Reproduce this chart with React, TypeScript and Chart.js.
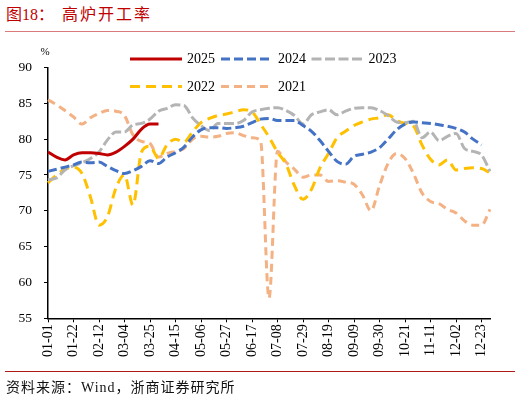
import React, { useEffect, useRef } from "react";
import { Chart, registerables } from "chart.js";

Chart.register(...registerables);

const labels = [
  "01-01", "01-08", "01-15", "01-22", "01-29", "02-05", "02-12", "02-19", "02-26",
  "03-04", "03-11", "03-18", "03-25", "04-01", "04-08", "04-15", "04-22", "04-29",
  "05-06", "05-13", "05-20", "05-27", "06-03", "06-10", "06-17", "06-24", "07-01",
  "07-08", "07-15", "07-22", "07-29", "08-05", "08-12", "08-19", "08-26", "09-02",
  "09-09", "09-16", "09-23", "09-30", "10-07", "10-14", "10-21", "10-28", "11-04",
  "11-11", "11-18", "11-25", "12-02", "12-09", "12-16", "12-23", "12-30",
];

const shownTicks = [
  "01-01", "01-22", "02-12", "03-04", "03-25", "04-15", "05-06", "05-27", "06-17",
  "07-08", "07-29", "08-19", "09-09", "09-30", "10-21", "11-11", "12-02", "12-23",
];

const yTicks = [55, 60, 65, 70, 75, 80, 85, 90];

const s2025 = [78.2, 77.5, 77.1, 77.8, 78.1, 78.1, 78.0, 77.8, 78.2, 79.0, 80.0, 81.4, 82.1, 82.1];

const s2024 = [
  75.5, 75.8, 76.1, 76.4, 76.8, 76.7, 76.8, 76.2, 75.6, 75.2,
  75.6, 76.2, 77.0, 76.6, 77.5, 78.1, 78.9, 80.3, 81.3, 81.6,
  81.6, 81.5, 81.6, 81.8, 82.3, 82.8, 82.9, 82.6, 82.6, 82.6,
  81.9, 81.1, 79.8, 78.3, 76.9, 76.5, 77.6, 77.9, 78.2, 78.8,
  80.0, 81.3, 82.1, 82.4, 82.3, 82.2, 82.0, 81.8, 81.5, 81.0,
  80.0, 79.2,
];

const s2023 = [
  74.3, 74.6, 75.7, 76.3, 76.7, 77.3, 78.2, 79.9, 81.0, 81.0,
  82.0, 82.2, 82.8, 83.9, 84.3, 84.8, 84.7, 83.0, 81.9, 81.2,
  82.2, 82.2, 82.2, 82.6, 83.8, 84.1, 84.3, 84.4, 84.0, 83.3,
  82.1, 83.4, 83.8, 84.1, 83.4, 83.9, 84.3, 84.4, 84.4, 84.0,
  83.3, 82.4, 82.3, 82.5, 80.2, 81.0, 79.8, 80.4, 80.8, 78.7,
  78.3, 77.8, 75.5,
];

const s2022 = [
  73.9, 75.0, 75.8, 76.1, 75.2, 71.9, 68.0, 69.2, 73.2, 75.0,
  70.8, 78.2, 79.0, 77.3, 79.2, 80.0, 79.6, 81.0, 82.3, 82.9,
  83.3, 83.5, 83.8, 84.1, 83.8, 82.1, 80.3, 78.2, 76.5, 73.5,
  71.6, 73.0, 76.0, 78.0, 80.2, 81.1, 81.9, 82.4, 82.8, 83.0,
  83.4, 82.6, 82.2, 81.8, 79.2, 77.2, 76.4, 77.1, 75.7, 75.9,
  76.0, 75.9, 75.3,
];

const s2021 = [
  85.5, 84.8, 84.0, 83.1, 82.1, 83.0, 83.6, 84.0, 83.9, 83.3,
  80.6, 79.7, 79.4, 77.5, 78.0, 78.3, 78.7, 80.0, 80.4, 80.3,
  80.4, 80.8, 80.9, 80.5, 80.2, 79.8, 57.8, 78.3, 76.8, 75.8,
  74.7, 75.0, 75.0, 74.1, 74.2, 74.0, 73.7, 72.2, 70.0, 73.5,
  76.6, 78.0, 77.3, 75.2, 72.5, 71.3, 71.0, 70.2, 69.7, 68.6,
  68.0, 68.0, 70.2,
];

const SERIF = '"Liberation Serif", "Times New Roman", "Noto Sans CJK SC", serif';

const gridLegend = {
  id: "gridLegend",
  afterDraw(chart: any) {
    const { ctx, chartArea } = chart;
    const cols = [82, 173, 263.5];
    const rows = [-8.5, 19];
    ctx.save();
    chart.data.datasets.forEach((ds: any, i: number) => {
      const x0 = chartArea.left + cols[i % 3];
      const y = chartArea.top + rows[Math.floor(i / 3)];
      ctx.strokeStyle = ds.borderColor;
      ctx.lineWidth = ds.borderWidth;
      ctx.setLineDash(ds.borderDash || []);
      ctx.beginPath();
      ctx.moveTo(x0, y);
      ctx.lineTo(x0 + 52, y);
      ctx.stroke();
      ctx.setLineDash([]);
      ctx.fillStyle = "#000";
      ctx.font = `14px ${SERIF}`;
      ctx.textBaseline = "middle";
      ctx.textAlign = "left";
      ctx.fillText(ds.label, x0 + 57, y + 0.5);
    });
    ctx.font = `11px ${SERIF}`;
    ctx.textAlign = "center";
    ctx.textBaseline = "middle";
    ctx.fillStyle = "#000";
    ctx.fillText("%", chartArea.left - 3, chartArea.top - 15);
    ctx.restore();
  },
};

export default function App() {
  const canvasRef = useRef<HTMLCanvasElement | null>(null);

  useEffect(() => {
    if (!canvasRef.current) return;
    const mk = (label: string, data: number[], color: string, dash: number[]) => ({
      label,
      data,
      borderColor: color,
      backgroundColor: color,
      borderWidth: 3,
      borderDash: dash,
      pointRadius: 0,
      pointHoverRadius: 0,
      fill: false,
      cubicInterpolationMode: "monotone" as const,
      spanGaps: false,
    });
    const chart = new Chart(canvasRef.current, {
      type: "line",
      data: {
        labels,
        datasets: [
          mk("2025", s2025, "#C00000", []),
          mk("2024", s2024, "#4472C4", [9, 4]),
          mk("2023", s2023, "#B4B4B4", [10, 3.5]),
          mk("2022", s2022, "#FFC000", [10, 6]),
          mk("2021", s2021, "#F4B183", [8, 5]),
        ],
      },
      options: {
        animation: false,
        responsive: false,
        devicePixelRatio: 1,
        layout: { padding: { left: 0, top: 67.5, right: 30, bottom: 38.7 } },
        plugins: {
          legend: { display: false },
          tooltip: { enabled: false },
          title: { display: false },
        },
        scales: {
          x: {
            type: "category",
            offset: false,
            afterFit: (scale: any) => {
              scale.height = 45;
            },
            grid: {
              display: true,
              drawOnChartArea: false,
              drawTicks: true,
              tickLength: 4,
              color: "#000",
              lineWidth: 1,
            },
            border: { display: true, color: "#000", width: 1.5 },
            ticks: {
              autoSkip: false,
              minRotation: 90,
              maxRotation: 90,
              padding: 2,
              color: "#000",
              font: { family: SERIF, size: 14 },
              callback: (_v: any, i: number) =>
                shownTicks.includes(labels[i]) ? labels[i] : null,
            },
          },
          y: {
            type: "linear",
            min: yTicks[0],
            max: yTicks[yTicks.length - 1],
            afterFit: (scale: any) => {
              scale.width = 48;
            },
            afterBuildTicks: (scale: any) => {
              scale.ticks = yTicks.map((v) => ({ value: v }));
            },
            grid: {
              display: true,
              drawOnChartArea: false,
              drawTicks: true,
              tickLength: 4,
              color: "#000",
              lineWidth: 1,
            },
            border: { display: true, color: "#000", width: 1.5 },
            ticks: {
              padding: 12,
              color: "#000",
              font: { family: SERIF, size: 13.5 },
            },
          },
        },
      },
      plugins: [gridLegend],
    });
    return () => chart.destroy();
  }, []);

  return (
    <div
      style={{
        position: "absolute",
        left: 0,
        top: 0,
        width: 520,
        height: 402,
        background: "#fff",
        overflow: "hidden",
      }}
    >
      <div
        style={{
          position: "absolute",
          left: 6,
          top: 4,
          fontFamily: SERIF,
          fontSize: 16,
          color: "#C00000",
          whiteSpace: "nowrap",
          lineHeight: "22px",
        }}
      >
        <span>图18：</span>
        <span style={{ marginLeft: 8, letterSpacing: 2 }}>高炉开工率</span>
      </div>
      <div
        style={{
          position: "absolute",
          left: 5,
          top: 31,
          width: 510,
          height: 1,
          background: "#D97B7B",
        }}
      />
      <canvas
        ref={canvasRef}
        width={520}
        height={402}
        style={{ position: "absolute", left: 0, top: 0, width: 520, height: 402 }}
      />
      <div
        style={{
          position: "absolute",
          left: 5,
          top: 371,
          width: 510,
          height: 1,
          background: "#B01818",
        }}
      />
      <div
        style={{
          position: "absolute",
          left: 6,
          top: 378,
          fontFamily: SERIF,
          fontSize: 14,
          color: "#111",
          whiteSpace: "nowrap",
          lineHeight: "20px",
          letterSpacing: 1,
        }}
      >
        资料来源：Wind，浙商证券研究所
      </div>
    </div>
  );
}
